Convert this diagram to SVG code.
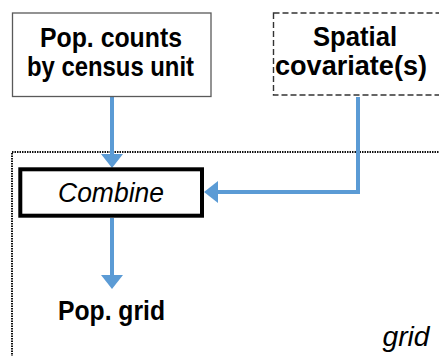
<svg xmlns="http://www.w3.org/2000/svg" width="439" height="356" viewBox="0 0 439 356">
  <style>
    .bold { font-family: "Liberation Sans", Arial, sans-serif; font-weight: bold; font-size: 27px; fill: #000; text-anchor: middle; }
    .ital { font-family: "Liberation Sans", Arial, sans-serif; font-style: italic; font-size: 27px; fill: #000; text-anchor: middle; }
    .link { fill: none; stroke: #5B9BD5; stroke-width: 4; }
  </style>
  <defs>
    <marker id="head" markerUnits="userSpaceOnUse" markerWidth="22" markerHeight="22" viewBox="0 0 14 22" refX="0" refY="11" orient="auto">
      <path d="M0,0 L14,11 L0,22 Z" fill="#5B9BD5"/>
    </marker>
  </defs>
  <rect width="439" height="356" fill="#fff"/>

  <!-- grid frame -->
  <g id="grid-frame">
    <rect x="12" y="152" width="460" height="230" fill="none" stroke="#111" stroke-width="2" stroke-dasharray="1.5 1"/>
    <text class="ital" x="406" y="346" textLength="47" lengthAdjust="spacingAndGlyphs">grid</text>
  </g>

  <!-- connectors -->
  <g id="connectors">
    <path class="link" d="M112,97 V154" marker-end="url(#head)"/>
    <path class="link" d="M358,97 V192 H218" marker-end="url(#head)"/>
    <path class="link" d="M112,218 V275" marker-end="url(#head)"/>
  </g>

  <g id="pop-counts">
    <rect x="12.5" y="13" width="198.5" height="83.5" fill="#fff" stroke="#595959" stroke-width="1.3"/>
    <text class="bold" x="111" y="47" textLength="142" lengthAdjust="spacingAndGlyphs">Pop. counts</text>
    <text class="bold" x="110.5" y="76" textLength="167" lengthAdjust="spacingAndGlyphs">by census unit</text>
  </g>

  <g id="spatial-covariates">
    <rect x="273.5" y="13" width="200" height="82" fill="#fff" stroke="#333" stroke-width="1.4" stroke-dasharray="6 3"/>
    <text class="bold" x="355" y="46" textLength="84" lengthAdjust="spacingAndGlyphs">Spatial</text>
    <text class="bold" x="351" y="75" textLength="152" lengthAdjust="spacingAndGlyphs">covariate(s)</text>
  </g>

  <g id="combine">
    <rect x="20.3" y="169.3" width="181.7" height="46.4" fill="#fff" stroke="#000" stroke-width="4"/>
    <text class="ital" x="111" y="202" textLength="106" lengthAdjust="spacingAndGlyphs">Combine</text>
  </g>

  <g id="pop-grid">
    <text class="bold" x="111.5" y="320" textLength="107" lengthAdjust="spacingAndGlyphs">Pop. grid</text>
  </g>
</svg>
